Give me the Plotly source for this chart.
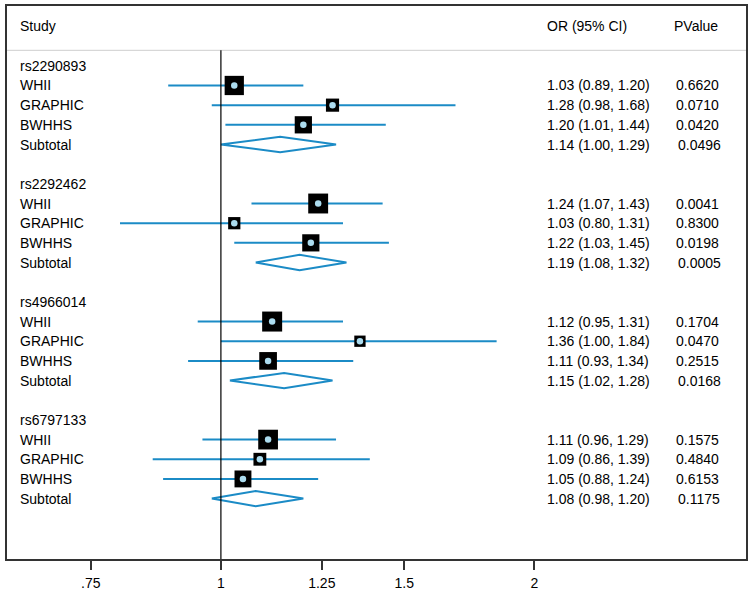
import math
import plotly.graph_objects as go

# forest plot data
snps = ["rs2290893", "rs2292462", "rs4966014", "rs6797133"]
studies = ["WHII", "GRAPHIC", "BWHHS"]

odds = [[1.03, 1.28, 1.20], [1.24, 1.03, 1.22], [1.12, 1.36, 1.11], [1.11, 1.09, 1.05]]
ci_low = [[0.89, 0.98, 1.01], [1.07, 0.80, 1.03], [0.95, 1.00, 0.93], [0.96, 0.86, 0.88]]
ci_high = [[1.20, 1.68, 1.44], [1.43, 1.31, 1.45], [1.31, 1.84, 1.34], [1.29, 1.39, 1.24]]
pvalues = [["0.6620", "0.0710", "0.0420"], ["0.0041", "0.8300", "0.0198"],
           ["0.1704", "0.0470", "0.2515"], ["0.1575", "0.4840", "0.6153"]]
weights = [[44.1, 20.6, 35.3], [47.1, 17.8, 35.2], [47.6, 15.2, 37.2], [46.3, 19.6, 34.0]]

sub_or = [1.14, 1.19, 1.15, 1.08]
sub_low = [1.00, 1.08, 1.02, 0.98]
sub_high = [1.29, 1.32, 1.28, 1.20]
sub_p = ["0.0496", "0.0005", "0.0168", "0.1175"]

tick_vals = [0.75, 1, 1.25, 1.5, 2]
tick_text = [".75", "1", "1.25", "1.5", "2"]

BLUE = "#1b8bc6"
FONT = "Arial, Liberation Sans, sans-serif"
FS = 14

fig = go.Figure()
annots = []

def label(xp, y, txt):
    annots.append(dict(x=xp, y=y, xref="paper", yref="y", text=txt, showarrow=False,
                       xanchor="left", yanchor="middle", font=dict(size=FS, color="black", family=FONT)))

ci_x, ci_y = [], []
sq_x, sq_y, sq_s = [], [], []
dia_x, dia_y = [], []

row = 0
for g, snp in enumerate(snps):
    label(0.0148, row, snp)
    for s, st in enumerate(studies):
        r = row + 1 + s
        label(0.0148, r, st)
        label(0.728, r, f"{odds[g][s]:.2f} ({ci_low[g][s]:.2f}, {ci_high[g][s]:.2f})")
        label(0.903, r, pvalues[g][s])
        ci_x += [ci_low[g][s], ci_high[g][s], None]
        ci_y += [r, r, None]
        sq_x.append(odds[g][s])
        sq_y.append(r)
        sq_s.append(2.9 * math.sqrt(weights[g][s]))
    r = row + 4
    label(0.0148, r, "Subtotal")
    label(0.728, r, f"{sub_or[g]:.2f} ({sub_low[g]:.2f}, {sub_high[g]:.2f})")
    label(0.905, r, sub_p[g])
    h = 0.39
    dia_x += [sub_low[g], sub_or[g], sub_high[g], sub_or[g], sub_low[g], None]
    dia_y += [r, r - h, r, r + h, r, None]
    row += 6

# header
label(0.0148, -2, "Study")
label(0.728, -2, "OR (95% CI)")
label(0.900, -2, "PValue")

fig.add_trace(go.Scatter(x=ci_x, y=ci_y, mode="lines", line=dict(color=BLUE, width=2), hoverinfo="skip"))
fig.add_trace(go.Scatter(x=sq_x, y=sq_y, mode="markers",
                         marker=dict(symbol="square", size=sq_s, color="black", opacity=1, line=dict(width=0))))
fig.add_trace(go.Scatter(x=sq_x, y=sq_y, mode="markers",
                         marker=dict(symbol="circle", size=6.5, color="#acdcef", opacity=1, line=dict(width=0))))
fig.add_trace(go.Scatter(x=dia_x, y=dia_y, mode="lines", line=dict(color=BLUE, width=2), hoverinfo="skip"))

fig.add_shape(type="line", xref="paper", yref="y", x0=0, x1=1, y0=-0.787, y1=-0.787,
              line=dict(color="#cfcfcf", width=1))
fig.add_shape(type="line", xref="x", yref="y", x0=1, x1=1, y0=-0.787, y1=25.07,
              line=dict(color="black", width=1.2))

fig.update_layout(
    width=754, height=592,
    margin=dict(l=7, r=6, t=6, b=33),
    paper_bgcolor="white", plot_bgcolor="white",
    showlegend=False,
    annotations=annots,
    font=dict(family=FONT, size=FS, color="black"),
    xaxis=dict(type="log", range=[math.log10(0.6231), math.log10(3.194)],
               tickvals=tick_vals, ticktext=tick_text, ticks="outside", ticklen=9,
               tickwidth=1.5, tickcolor="#333333", showgrid=False, zeroline=False,
               showline=True, linecolor="#333333", linewidth=1.5, mirror=True,
               ticklabelstandoff=1, automargin=False,
               tickfont=dict(size=FS, family=FONT, color="black")),
    yaxis=dict(range=[25.07, -3.04], showticklabels=False, showgrid=False, zeroline=False,
               showline=True, linecolor="#333333", linewidth=1.5, mirror=True, ticks=""),
)

# drop the default page margin so the figure sits at the window's corner
fig.write_html("out.html", config={"displayModeBar": False},
               post_script="document.body.style.margin='0';")
